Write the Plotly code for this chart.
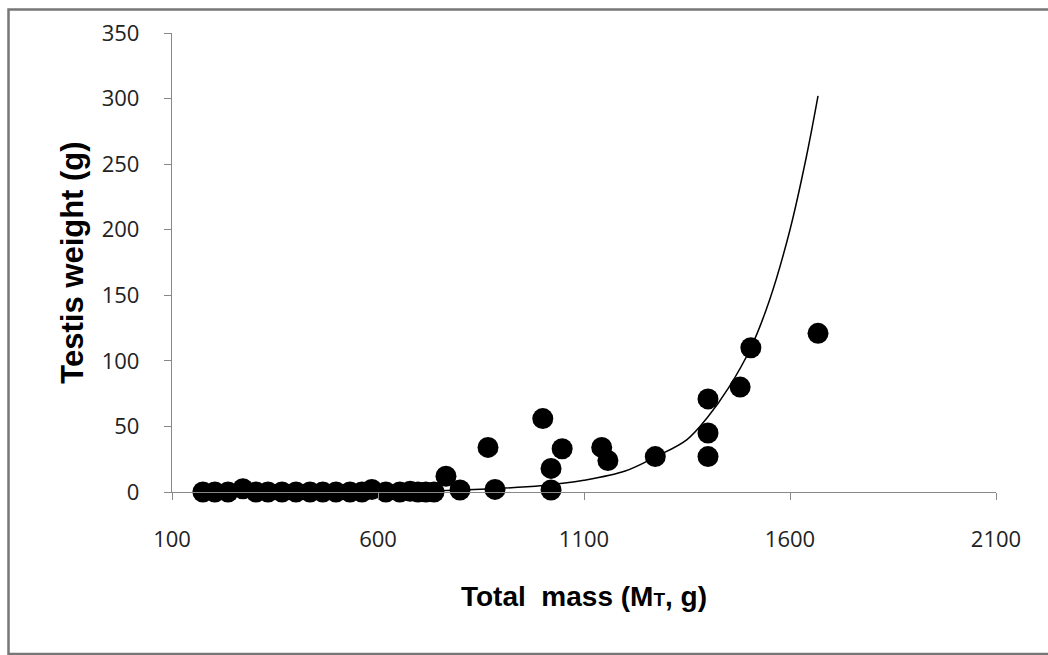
import plotly.graph_objects as go

# Observed data (Total mass in g, Testis weight in g)
mass = [175, 204, 236, 272, 304, 333, 367, 401, 435, 466, 498, 532, 561, 585, 619,
        653, 678, 697, 716, 736, 765, 799, 867, 884, 1000, 1020, 1020, 1047, 1143,
        1158, 1273, 1401, 1401, 1401, 1479, 1505, 1668]
testis = [0, 0, 0, 2.5, 0, 0, 0, 0, 0, 0, 0, 0, 0, 2, 0,
          0, 0.5, 0, 0, 0, 12, 1.5, 34, 2, 56, 18, 1.5, 33, 34,
          24, 27, 71, 45, 27, 80, 110, 121]

# Trend curve
curve_x = [175, 600, 800, 1000, 1100, 1200, 1275, 1350, 1400, 1450, 1505, 1550, 1600, 1640, 1668]
curve_y = [0, 0.4, 1.5, 5, 9, 16, 27, 40, 57, 79, 110, 146, 200, 256, 302]

x_ticks = [100, 600, 1100, 1600, 2100]
y_ticks = [0, 50, 100, 150, 200, 250, 300, 350]

fig = go.Figure()
fig.add_trace(go.Scatter(x=curve_x, y=curve_y, mode="lines",
                         line=dict(color="black", width=1.5, shape="spline"),
                         hoverinfo="skip", cliponaxis=False))
fig.add_trace(go.Scatter(x=mass, y=testis, mode="markers",
                         marker=dict(color="black", size=21), cliponaxis=False))

L, R, T, B = 172, 52, 33, 163
W, H = 1048, 655
pw, ph = W - L - R, H - T - B

def px(xp):
    return (xp - L) / pw

def py(yp):
    return (H - B - yp) / ph

tickfont = dict(size=22, family="Open Sans, sans-serif", color="#222")
xtitlefont = dict(size=28, family="Liberation Sans, Arial", color="black", weight="bold")
ytitlefont = dict(size=31, family="Liberation Sans, Arial", color="black", weight="bold")

fig.update_layout(
    width=W, height=H,
    margin=dict(l=L, r=R, t=T, b=B),
    paper_bgcolor="white", plot_bgcolor="white",
    showlegend=False,
    font=dict(family="Open Sans, Liberation Sans, sans-serif", color="#222"),
    xaxis=dict(range=[100, 2100], tickvals=x_ticks, showgrid=False, zeroline=False,
               showline=True, linecolor="#888", linewidth=1.3,
               ticks="outside", ticklen=7, tickcolor="#888",
               tickfont=tickfont, ticklabelstandoff=20,
               title=dict(text="Total  mass (M<span style='font-size:19px'>T</span>, g)",
                          font=xtitlefont, standoff=34)),
    yaxis=dict(range=[0, 350], tickvals=y_ticks, showgrid=False, zeroline=False,
               showline=True, linecolor="#888", linewidth=1.3,
               ticks="outside", ticklen=7, tickcolor="#888",
               tickfont=tickfont, ticklabelstandoff=20,
               title=dict(text="Testis weight (g)", font=ytitlefont, standoff=8)),
    shapes=[dict(type="rect", xref="paper", yref="paper",
                 x0=px(8.5), x1=px(1060), y0=py(9.5), y1=py(654),
                 line=dict(color="#777", width=2.5), fillcolor="rgba(0,0,0,0)", layer="below")],
)

fig.write_html("out.html")
